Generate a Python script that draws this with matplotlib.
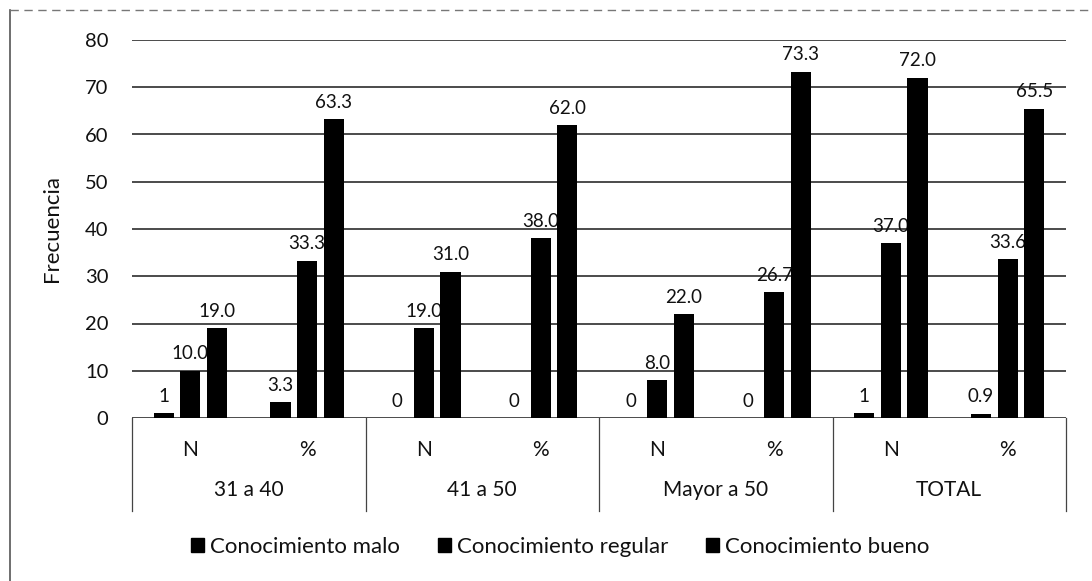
import matplotlib
matplotlib.use("Agg")
import matplotlib.pyplot as plt
from matplotlib.lines import Line2D
from matplotlib.patches import Patch
import matplotlib.transforms as mtransforms
import numpy as np

plt.rcParams['font.family'] = ['Lato', 'DejaVu Sans']

groups = ["31 a 40", "41 a 50", "Mayor a 50", "TOTAL"]
subcats = ["N", "%", "N", "%", "N", "%", "N", "%"]
series_names = ["Conocimiento malo", "Conocimiento regular", "Conocimiento bueno"]
malo = [1, 3.3, 0, 0, 0, 0, 1, 0.9]
regular = [10.0, 33.3, 19.0, 38.0, 8.0, 26.7, 37.0, 33.6]
bueno = [19.0, 63.3, 31.0, 62.0, 22.0, 73.3, 72.0, 65.5]
y_ticks = [0, 10, 20, 30, 40, 50, 60, 70, 80]

fig = plt.figure(figsize=(10.92, 5.81), dpi=100)
W, H = 1092, 581
ax = fig.add_axes([132 / W, 1 - 418 / H, (1066 - 132) / W, (418 - 40) / H])

x = np.arange(len(subcats))
bw = 0.172
step = 0.228
series = [malo, regular, bueno]
fmts = ["{:g}", "{:.1f}", "{:.1f}"]
for i, (vals, fmt) in enumerate(zip(series, fmts)):
    xs = x + (i - 1) * step
    ax.bar(xs, vals, width=bw, color="black", zorder=3)
    for xv, v in zip(xs, vals):
        ax.annotate(fmt.format(v), (xv, v), xytext=(0, 6), textcoords="offset points",
                    ha="center", va="bottom", fontsize=13.5, color="#111", zorder=2)

ax.set_xlim(-0.5, 7.5)
ax.set_ylim(0, 80)
ax.set_yticks(y_ticks)
ax.tick_params(axis="y", length=0, pad=17, labelsize=14.5, labelcolor="#111")
ax.set_xticks([])
for s in ax.spines.values():
    s.set_visible(False)
ax.yaxis.grid(True, color="#1a1a1a", linewidth=1.1, zorder=0)
ax.set_axisbelow(True)
ax.set_ylabel("Frecuencia", fontsize=16, color="#111")
ax.yaxis.set_label_coords((62 - 132) / (1066 - 132), 0.5)

# two-level category axis
trans = mtransforms.blended_transform_factory(ax.transData, ax.transAxes)
for b in [-0.5, 1.5, 3.5, 5.5, 7.5]:
    ax.add_line(Line2D([b, b], [0, -0.245], transform=trans, color="#444",
                       linewidth=0.9, clip_on=False))
for xv, lab in zip(x, subcats):
    ax.text(xv, -0.085, lab, transform=trans, ha="center", va="center",
            fontsize=15, color="#111")
for gi, g in enumerate(groups):
    ax.text(2 * gi + 0.5, -0.19, g, transform=trans, ha="center", va="center",
            fontsize=15, color="#111")

handles = [Patch(facecolor="black", edgecolor="black") for _ in series_names]
fig.legend(handles, series_names, loc="center", bbox_to_anchor=(560 / W, 1 - 547 / H),
           ncol=3, frameon=False, fontsize=16, handlelength=0.6, handleheight=0.6,
           handletextpad=0.25, columnspacing=1.7, labelcolor="#111")

# page frame
fig.add_artist(Line2D([10 / W, 10 / W], [0, 1 - 10 / H], transform=fig.transFigure,
                      color="#555", linewidth=1.2))
fig.add_artist(Line2D([10 / W, 1], [1 - 10 / H, 1 - 10 / H], transform=fig.transFigure,
                      color="#777", linewidth=1.0, linestyle=(0, (6, 4))))

fig.savefig("out.png", dpi=100, facecolor="white")
